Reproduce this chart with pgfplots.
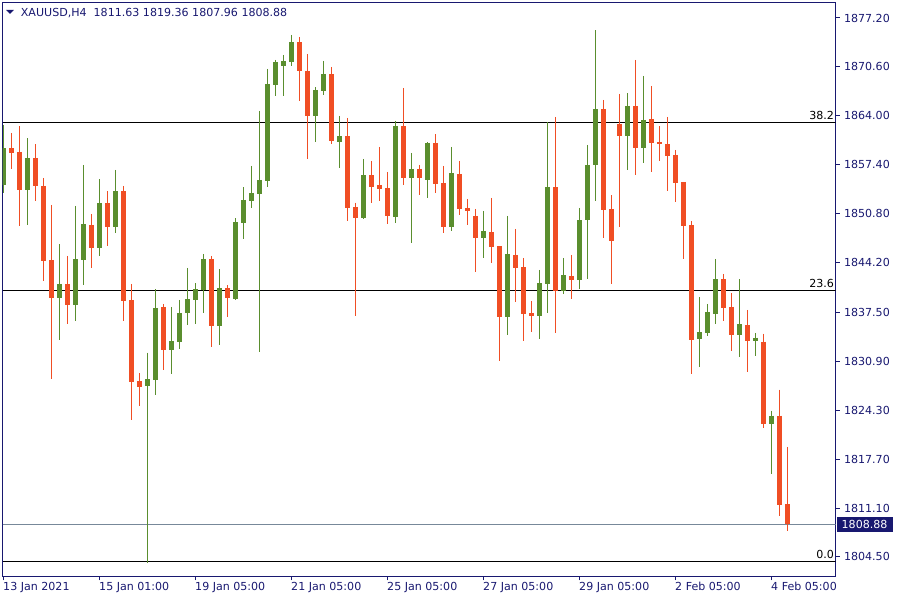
\documentclass[border=0pt]{standalone}
\usepackage{fontspec}
\setmainfont{DejaVu Sans}
\usepackage{pgfplots}
\usepackage{pgfplotstable}
\pgfplotsset{compat=1.18}

\definecolor{navyc}{RGB}{24,24,112}
\definecolor{bull}{RGB}{90,142,46}
\definecolor{bear}{RGB}{240,78,36}
\definecolor{pricegrey}{RGB}{119,136,153}

% XAUUSD H4 candles: index, open, high, low, close
\pgfplotstableread{
i o h l c
0 1854.71 1862.77 1853.63 1859.66
1 1859.66 1861.69 1856.83 1859.03
2 1859.13 1862.63 1849.18 1854.04
3 1854.04 1861.01 1849.32 1858.32
4 1858.32 1860.20 1852.56 1854.58
5 1854.54 1855.62 1841.76 1844.46
6 1844.56 1851.98 1828.54 1839.47
7 1839.47 1846.71 1833.80 1841.32
8 1841.32 1845.10 1835.96 1838.53
9 1838.53 1851.84 1836.37 1844.69
10 1844.60 1857.37 1841.22 1849.41
11 1849.28 1850.76 1843.52 1846.22
12 1846.22 1855.48 1845.14 1852.25
13 1852.25 1853.86 1846.48 1849.05
14 1849.05 1856.70 1848.24 1853.86
15 1853.86 1854.54 1836.37 1839.07
16 1839.16 1841.32 1822.97 1828.14
17 1828.23 1829.31 1824.90 1827.46
18 1827.60 1832.05 1803.72 1828.50
19 1828.41 1840.60 1826.38 1838.08
20 1838.22 1838.62 1829.76 1832.46
21 1832.46 1838.22 1829.22 1833.63
22 1833.53 1839.16 1832.59 1837.41
23 1837.45 1843.48 1835.83 1839.30
24 1839.20 1841.45 1835.96 1840.64
25 1840.55 1845.37 1837.45 1844.69
26 1844.69 1845.10 1832.86 1835.69
27 1835.69 1843.34 1833.13 1840.78
28 1840.78 1841.18 1836.91 1839.47
29 1839.34 1850.22 1839.20 1849.68
30 1849.59 1854.40 1847.43 1852.65
31 1852.56 1857.24 1851.61 1853.59
32 1853.50 1864.66 1832.19 1855.35
33 1855.25 1870.32 1854.44 1868.30
34 1868.16 1871.54 1866.72 1871.27
35 1870.73 1872.21 1866.72 1871.40
36 1871.27 1874.91 1870.77 1873.96
37 1873.96 1874.64 1866.05 1870.05
38 1870.05 1872.35 1858.22 1863.98
39 1863.98 1867.89 1860.51 1867.49
40 1867.35 1871.40 1866.85 1869.65
41 1869.65 1870.59 1860.24 1860.65
42 1860.51 1863.98 1857.01 1861.28
43 1861.28 1863.71 1849.86 1851.61
44 1851.71 1852.29 1837.04 1850.26
45 1850.26 1858.18 1850.13 1856.02
46 1856.02 1857.91 1852.29 1854.44
47 1854.67 1859.80 1852.56 1854.17
48 1854.27 1856.43 1849.45 1850.53
49 1850.40 1863.31 1849.59 1862.63
50 1862.63 1867.76 1854.71 1855.66
51 1855.66 1858.99 1846.89 1856.83
52 1856.83 1857.37 1853.37 1855.66
53 1855.39 1860.47 1852.96 1860.34
54 1860.34 1861.55 1853.63 1854.85
55 1854.94 1857.24 1848.24 1849.05
56 1849.05 1859.80 1848.51 1856.29
57 1856.16 1857.91 1850.67 1851.48
58 1851.57 1852.79 1849.32 1851.21
59 1850.49 1851.44 1842.98 1847.56
60 1847.56 1851.17 1844.87 1848.47
61 1848.33 1852.92 1844.19 1846.35
62 1846.44 1846.44 1830.97 1836.91
63 1836.91 1850.49 1834.48 1845.37
64 1845.23 1848.74 1838.93 1843.52
65 1843.61 1844.83 1833.67 1837.31
66 1837.41 1839.03 1834.88 1837.04
67 1837.04 1843.21 1833.94 1841.45
68 1841.36 1863.17 1837.45 1854.40
69 1854.40 1863.85 1834.75 1840.41
70 1840.41 1844.83 1840.01 1842.53
71 1842.40 1845.23 1839.34 1841.90
72 1841.90 1851.57 1840.68 1849.95
73 1849.99 1860.07 1842.03 1857.37
74 1857.41 1875.58 1852.52 1864.93
75 1864.93 1866.14 1847.52 1851.34
76 1851.44 1853.32 1841.36 1847.16
77 1862.90 1866.95 1849.01 1861.28
78 1861.28 1867.08 1856.70 1865.33
79 1865.33 1871.54 1856.02 1859.66
80 1859.66 1869.38 1857.64 1863.44
81 1863.58 1868.03 1856.43 1860.34
82 1860.47 1862.63 1857.91 1860.20
83 1860.20 1863.85 1853.90 1858.63
84 1858.72 1859.40 1852.42 1854.98
85 1855.08 1855.08 1844.73 1849.18
86 1849.28 1849.82 1829.22 1833.80
87 1833.94 1839.56 1830.16 1834.84
88 1834.75 1838.62 1834.34 1837.54
89 1837.31 1844.69 1835.96 1841.99
90 1841.99 1842.67 1836.37 1838.12
91 1838.22 1840.10 1832.32 1834.48
92 1834.48 1841.99 1831.51 1835.92
93 1835.79 1837.81 1829.49 1833.67
94 1833.67 1834.71 1831.65 1834.07
95 1833.53 1834.61 1821.93 1822.47
96 1822.47 1824.23 1815.73 1823.55
97 1823.55 1827.06 1810.06 1811.55
98 1811.63 1819.36 1807.96 1808.88
}\candles

\newcommand{\lblfont}{\fontsize{8.3}{10}\selectfont}

\begin{document}
\begin{tikzpicture}
\begin{axis}[
  at={(0,0)}, anchor=south west,
  width=624.75pt, height=430.5pt, scale only axis,
  xmin=-0.125, xmax=104, ymin=1801.86, ymax=1879.29,
  clip mode=individual,
  axis line style={draw=navyc, line width=0.75pt},
  tick style={draw=navyc, line width=0.75pt},
  tick align=outside, major tick length=3pt,
  xtick pos=bottom, ytick pos=right, yticklabel pos=right,
  xtick={0,12,...,96},
  xticklabels={13 Jan 2021,15 Jan 01:00,19 Jan 05:00,21 Jan 05:00,25 Jan 05:00,27 Jan 05:00,29 Jan 05:00,2 Feb 05:00,4 Feb 05:00},
  ytick={1804.5,1811.1,1817.7,1824.3,1830.9,1837.5,1844.2,1850.8,1857.4,1864.0,1870.6,1877.2},
  yticklabels={1804.50,1811.10,1817.70,1824.30,1830.90,1837.50,1844.20,1850.80,1857.40,1864.00,1870.60,1877.20},
  ticklabel style={font=\lblfont, text=navyc, inner sep=0pt},
  xticklabel style={anchor=north west, xshift=-0.4pt, yshift=-1.2pt},
  yticklabel style={anchor=west, xshift=3.2pt},
]
% fibonacci levels and current price
\addplot[black, line width=0.75pt] coordinates {(-0.125,1863.10) (104,1863.10)};
\addplot[black, line width=0.75pt] coordinates {(-0.125,1840.44) (104,1840.44)};
\addplot[black, line width=0.75pt] coordinates {(-0.125,1803.88) (104,1803.88)};
\addplot[pricegrey, line width=0.75pt] coordinates {(-0.125,1808.88) (104,1808.88)};

% wicks
\addplot[draw=none, mark=none, error bars/.cd, y dir=minus, y explicit, error mark=none,
  error bar style={draw=bull, line width=0.75pt}]
  table[x=i, y expr={\thisrow{c}>=\thisrow{o} ? \thisrow{h} : nan},
        y error minus expr={\thisrow{h}-\thisrow{l}}] {\candles};
\addplot[draw=none, mark=none, error bars/.cd, y dir=minus, y explicit, error mark=none,
  error bar style={draw=bear, line width=0.75pt}]
  table[x=i, y expr={\thisrow{c}<\thisrow{o} ? \thisrow{h} : nan},
        y error minus expr={\thisrow{h}-\thisrow{l}}] {\candles};
% bodies
\addplot[draw=none, mark=none, error bars/.cd, y dir=minus, y explicit, error mark=none,
  error bar style={draw=bull, line width=3.75pt}]
  table[x=i, y expr={\thisrow{c}>=\thisrow{o} ? \thisrow{c} : nan},
        y error minus expr={\thisrow{c}-\thisrow{o}}] {\candles};
\addplot[draw=none, mark=none, error bars/.cd, y dir=minus, y explicit, error mark=none,
  error bar style={draw=bear, line width=3.75pt}]
  table[x=i, y expr={\thisrow{c}<\thisrow{o} ? \thisrow{o} : nan},
        y error minus expr={\thisrow{o}-\thisrow{c}}] {\candles};

\node[font=\lblfont, anchor=south east, inner sep=0pt, xshift=-1pt, yshift=1.6pt] at (axis cs:104,1863.10) {38.2};
\node[font=\lblfont, anchor=south east, inner sep=0pt, xshift=-1pt, yshift=1.6pt] at (axis cs:104,1840.44) {23.6};
\node[font=\lblfont, anchor=south east, inner sep=0pt, xshift=-1pt, yshift=1.6pt] at (axis cs:104,1803.88) {0.0};
\node[font=\lblfont, anchor=west, fill=navyc, text=white, inner sep=0pt,
  minimum width=42pt, minimum height=11.25pt, xshift=0.6pt] at (axis cs:104,1808.88) {1808.88};
\end{axis}
% header
\fill[navyc] (2.6pt,424.9pt) -- (8.6pt,424.9pt) -- (5.6pt,421.9pt) -- cycle;
\node[font=\lblfont, text=navyc, anchor=base west, inner sep=0pt] at (13.6pt,419.9pt)
  {XAUUSD,H4\ \ 1811.63 1819.36 1807.96 1808.88};
\pgfresetboundingbox
\path[use as bounding box] (-1.875pt,-17.625pt) rectangle (673.125pt,432.375pt);
\end{tikzpicture}
\end{document}
